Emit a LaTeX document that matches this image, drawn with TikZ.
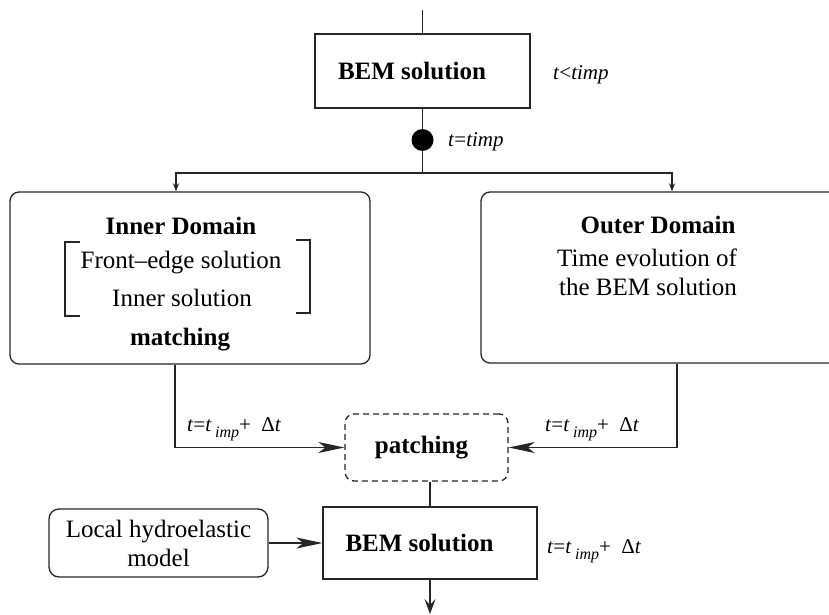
\documentclass[tikz,border=0pt]{standalone}
\usepackage{fontspec}
\setmainfont{Liberation Serif}
\usetikzlibrary{arrows.meta}
\newcommand{\tdt}{\textit{t}=\textit{t}\,\raisebox{-6pt}{\fontsize{16}{16}\selectfont\textit{imp}}+\ \ Δ\textit{t}}
\tikzset{
  box/.style={draw=black!85, line width=1.3pt, inner sep=0pt, font=\fontsize{25}{30}\selectfont\bfseries},
  rbox/.style={box, rounded corners=9pt},
  txt/.style={inner sep=0pt, anchor=base, font=\fontsize{25}{30}\selectfont},
  btxt/.style={txt, font=\fontsize{25}{30}\selectfont\bfseries},
  lbl/.style={inner sep=0pt, font=\fontsize{21}{25}\selectfont},
  conn/.style={draw=black!85, line width=1.2pt},
  smallarr/.style={conn, -{Stealth[length=8pt,width=6pt]}},
  bigarr/.style={conn, -{Stealth[length=26pt,width=11pt,inset=7pt]}},
  endarr/.style={conn, -{Stealth[length=15pt,width=11pt,inset=6pt]}},
}
\begin{document}
\begin{tikzpicture}[x=1pt,y=-1pt]
\clip (0,0) rectangle (829,615);
% top
\node[box, minimum width=215pt, minimum height=74pt] (bem1) at (422.5,71) {\hspace*{-21pt}BEM solution};
\coordinate (top) at (422.5,10);
\draw[conn] (top) -- (bem1.north);
\node[lbl, anchor=west] (l1) at (553,75) {\textit{t}<\textit{timp}};
\node[circle, fill=black, inner sep=0pt, minimum size=22pt] (dot) at (422.5,140) {};
\node[lbl, anchor=west] (l2) at (448,142) {\textit{t}=\textit{timp}};
\coordinate (junc) at (422.5,173);
\draw[conn] (bem1.south) -- (dot) -- (junc);
% domains
\node[rbox, minimum width=360pt, minimum height=172pt] (inner) at (190,278) {};
\node[rbox, minimum width=379pt, minimum height=171pt] (outer) at (670.5,277.5) {};
\draw[smallarr] (junc) -| ([xshift=-14pt]inner.north);
\draw[smallarr] (junc) -| ([xshift=1.5pt]outer.north);
\node[btxt] (indom) at (181,234) {Inner Domain};
\node[txt] (front) at (181,268) {Front--edge solution};
\node[txt] (insol) at (182,306) {Inner solution};
\node[btxt] (match) at (180,345) {matching};
\draw[conn] (80,242) -- (65,242) -- (65,316) -- (80,316);
\draw[conn] (296,240) -- (310,240) -- (310,313) -- (296,313);
\node[btxt] (outdom) at (658,233) {Outer Domain};
\node[txt] (time1) at (647,266) {Time evolution of};
\node[txt] (time2) at (648,295) {the BEM solution};
% patching
\node[rbox, dashed, dash pattern=on 6pt off 4pt, minimum width=163pt, minimum height=67pt] (patch) at (426.5,447.5) {\hspace*{-10pt}patching};
\draw[bigarr] ([xshift=-15pt]inner.south) |- (patch.west);
\draw[bigarr] ([xshift=6.5pt]outer.south) |- (patch.east);
\node[lbl, anchor=base west] (l3) at (187,431) {\tdt};
\node[lbl, anchor=base west] (l4) at (545,431) {\tdt};
% bottom
\node[box, minimum width=214pt, minimum height=72pt] (bem2) at (430,543) {\hspace*{-21pt}BEM solution};
\draw[conn] (bem2.north |- patch.south) -- (bem2.north);
\node[rbox, rounded corners=10pt, minimum width=219pt, minimum height=68pt, align=center, font=\fontsize{25}{29}\selectfont] (local) at (158.5,543) {Local hydroelastic\\model};
\draw[bigarr] (local.east) -- (bem2.west);
\node[lbl, anchor=base west] (l5) at (547,553) {\tdt};
\coordinate (bot) at (430,614);
\draw[endarr] (bem2.south) -- (bot);
\end{tikzpicture}
\end{document}
